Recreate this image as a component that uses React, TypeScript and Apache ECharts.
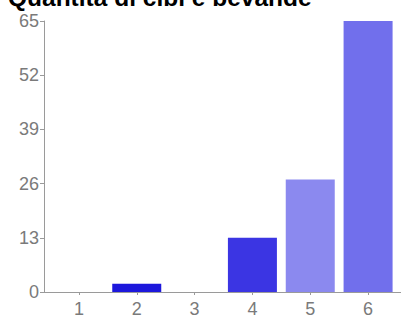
import React, { useEffect, useRef } from "react";
import * as echarts from "echarts";

const titleText = "Quantità di cibi e bevande";
const categories = ["1", "2", "3", "4", "5", "6"];
const values = [0, 2, 0, 13, 27, 65];
const barColors = ["#1c17dc", "#1c17dc", "#1c17dc", "#3b35e3", "#8b89ef", "#716fec"];
const yTicks = [0, 13, 26, 39, 52, 65];

export default function App() {
  const ref = useRef<HTMLDivElement>(null);
  useEffect(() => {
    if (!ref.current) return;
    const chart = echarts.init(ref.current, null, { renderer: "svg" });
    const axisColor = "#9a9a9a";
    const labelColor = "#7a7a7a";
    chart.setOption({
      animation: false,
      backgroundColor: "#ffffff",
      title: {
        text: titleText,
        left: 8,
        top: -15,
        padding: 0,
        textStyle: {
          fontFamily: "Liberation Sans, Arial, sans-serif",
          fontSize: 24.5,
          fontWeight: "bold",
          color: "#000000",
        },
      },
      grid: { left: 50, right: 4, top: 21, bottom: 26, containLabel: false },
      xAxis: {
        type: "category",
        data: categories,
        axisLine: { show: true, lineStyle: { color: axisColor, width: 1 } },
        axisTick: { show: true, alignWithLabel: true, length: 3, lineStyle: { color: axisColor } },
        axisLabel: {
          color: labelColor,
          fontFamily: "Liberation Sans, Arial, sans-serif",
          fontSize: 18,
          margin: 8,
        },
        splitLine: { show: false },
      },
      yAxis: {
        type: "value",
        min: yTicks[0],
        max: yTicks[yTicks.length - 1],
        interval: yTicks[1] - yTicks[0],
        offset: 6,
        axisLine: { show: true, lineStyle: { color: axisColor, width: 1 } },
        axisTick: { show: true, length: 4, lineStyle: { color: axisColor } },
        axisLabel: {
          color: labelColor,
          fontFamily: "Liberation Sans, Arial, sans-serif",
          fontSize: 18,
          margin: 5,
        },
        splitLine: { show: false },
      },
      graphic: [
        {
          type: "line",
          shape: { x1: 44, y1: 292.5, x2: 401, y2: 292.5 },
          style: { stroke: axisColor, lineWidth: 1 },
          z: 10,
        },
      ],
      series: [
        {
          type: "bar",
          barWidth: 49,
          data: values.map((v, i) => ({ value: v, itemStyle: { color: barColors[i] } })),
        },
      ],
    });
    return () => chart.dispose();
  }, []);
  return <div ref={ref} style={{ width: 401, height: 318, position: "absolute", left: 0, top: 0 }} />;
}
